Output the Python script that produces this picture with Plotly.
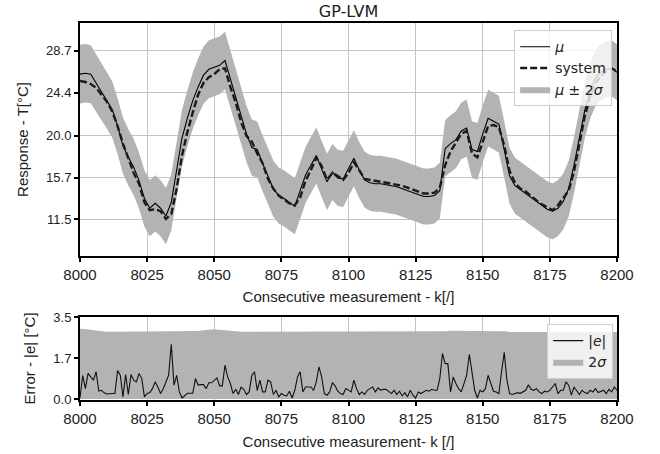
import plotly.graph_objects as go

# ---------------- data ----------------
k_top = list(range(8000, 8201, 2))

mu = [
    26.3, 26.4, 26.3, 25.4, 24.6, 23.6, 22.7, 21.0, 19.0, 17.8,
    16.8, 15.4, 13.6, 12.6, 13.1, 12.6, 11.8, 13.2, 16.6, 19.8,
    21.8, 23.6, 25.0, 26.2, 26.8, 27.0, 27.2, 27.7, 25.8, 24.0,
    22.0, 20.2, 18.8, 18.6, 17.2, 15.8, 14.6, 13.9, 13.6, 13.2,
    12.8, 14.4, 16.0, 17.0, 18.0, 16.6, 15.3, 16.3, 15.7, 15.6,
    16.6, 17.7, 16.5, 15.5, 15.2, 15.1, 15.1, 15.0, 14.9, 14.8,
    14.6, 14.4, 14.2, 14.0, 13.8, 13.8, 13.9, 14.4, 18.7, 19.2,
    19.6, 20.5, 20.8, 18.6, 18.4, 20.2, 21.8, 21.5, 21.2, 18.6,
    15.9, 14.9, 14.5, 14.1, 13.7, 13.3, 12.9, 12.5, 12.3, 12.6,
    13.3, 14.6, 17.0, 19.8, 22.6, 24.6, 25.9, 26.5, 26.8, 26.9,
    26.5,
]

system = [
    25.6, 25.5, 25.3, 24.9, 24.2, 23.5, 22.5, 21.0, 19.2, 17.6,
    16.2, 15.1, 13.2, 12.4, 12.5, 12.3, 11.5, 12.0, 14.6, 18.0,
    20.4, 22.4, 24.2, 25.4, 26.0, 26.3, 26.8, 26.9, 25.0, 23.4,
    21.4, 20.0, 19.4, 18.2, 17.2, 15.6, 14.6, 13.9, 13.5, 13.1,
    12.9, 13.7, 15.4, 16.5, 17.8, 16.9, 15.5, 16.2, 15.9, 15.5,
    16.2, 17.3, 16.5, 15.6, 15.5, 15.4, 15.3, 15.2, 15.1, 15.0,
    14.9, 14.7, 14.5, 14.3, 14.1, 14.1, 14.2, 14.7, 17.0, 18.4,
    19.3, 20.2, 20.5, 18.2, 17.8, 19.4, 21.0, 21.1, 20.9, 19.0,
    16.4, 15.2, 14.6, 14.3, 13.8, 13.4, 13.0, 12.7, 12.4, 12.9,
    13.6, 14.4, 16.4, 19.2, 22.0, 24.0, 25.4, 26.1, 26.6, 26.9,
    26.6,
]

two_sigma = [
    3.00, 2.99, 2.96, 2.92, 2.89, 2.87, 2.87, 2.87, 2.87, 2.87,
    2.87, 2.87, 2.87, 2.87, 2.87, 2.87, 2.87, 2.87, 2.87, 2.87,
    2.87, 2.88, 2.90, 2.93, 2.96, 2.98, 2.96, 2.93, 2.90, 2.88,
    2.87, 2.87, 2.87, 2.87, 2.87, 2.87, 2.87, 2.87, 2.87, 2.87,
    2.87, 2.87, 2.87, 2.87, 2.87, 2.87, 2.87, 2.87, 2.87, 2.87,
    2.86, 2.86, 2.86, 2.86, 2.86, 2.86, 2.86, 2.86, 2.86, 2.86,
    2.86, 2.86, 2.86, 2.86, 2.86, 2.86, 2.86, 2.86, 2.89, 2.91,
    2.91, 2.90, 2.91, 2.90, 2.90, 2.91, 2.90, 2.91, 2.90, 2.89,
    2.86, 2.86, 2.86, 2.86, 2.86, 2.86, 2.86, 2.86, 2.86, 2.86,
    2.86, 2.86, 2.86, 2.86, 2.86, 2.86, 2.86, 2.86, 2.86, 2.86,
    2.86,
]

k_err = list(range(8000, 8201))
err = [
    0.05, 1.00, 0.44, 1.09, 0.94, 0.80, 1.16, 0.34, 0.37, 0.26,
    0.21, 0.23, 0.23, 0.23, 1.21, 1.01, 0.09, 1.04, 0.19, 1.04,
    0.80, 0.73, 1.09, 0.87, 0.09, 0.23, 0.27, 0.44, 0.73, 0.51,
    0.23, 0.44, 0.73, 1.01, 2.33, 0.59, 1.01, 0.30, 0.04, 0.16,
    0.24, 0.24, 0.24, 0.87, 0.59, 0.61, 0.61, 0.44, 0.69, 0.69,
    0.80, 0.90, 0.56, 0.56, 1.44, 0.94, 0.66, 0.23, 0.41, 0.19,
    0.50, 0.41, 0.19, 0.30, 1.01, 1.16, 0.36, 0.80, 0.30, 0.30,
    0.80, 0.73, 0.19, 0.37, 0.09, 0.23, 0.16, 0.13, 0.33, 0.04,
    0.37, 0.94, 1.16, 0.30, 0.51, 0.51, 0.51, 0.37, 0.73, 1.37,
    0.94, 0.23, 0.16, 0.30, 0.70, 0.56, 0.33, 0.23, 0.19, 0.44,
    0.37, 0.30, 0.80, 0.44, 0.19, 0.30, 0.19, 0.37, 0.44, 0.51,
    0.30, 0.47, 0.37, 0.41, 0.41, 0.33, 0.23, 0.37, 0.19, 0.33,
    0.13, 0.27, 0.09, 0.37, 0.16, 0.04, 0.30, 0.23, 0.30, 0.37,
    0.33, 0.41, 0.37, 0.37, 0.87, 1.94, 1.51, 1.51, 0.30, 0.94,
    0.66, 0.44, 0.30, 0.66, 1.01, 1.90, 1.09, 0.37, 0.04, 0.37,
    0.30, 0.44, 1.01, 0.66, 0.33, 0.30, 0.23, 1.16, 1.99, 0.80,
    0.23, 0.19, 0.24, 0.27, 0.24, 0.30, 0.37, 0.61, 0.41, 0.37,
    0.44, 0.30, 0.23, 0.33, 0.30, 0.37, 0.51, 0.66, 0.23, 0.37,
    0.37, 0.73, 0.59, 0.16, 0.51, 0.37, 0.19, 0.37, 0.27, 0.23,
    0.37, 0.30, 0.44, 0.27, 0.33, 0.37, 0.23, 0.41, 0.30, 0.51,
    0.37,
]

x_ticks = [8000, 8025, 8050, 8075, 8100, 8125, 8150, 8175, 8200]
y_top_ticks = [11.5, 15.7, 20.0, 24.4, 28.7]
y_top_labels = ["11.5", "15.7", "20.0", "24.4", "28.7"]
y_err_ticks = [0.0, 1.75, 3.5]
y_err_labels = ["0.0", "1.7", "3.5"]

# ---------------- figure ----------------
lower = [m - s for m, s in zip(mu, two_sigma)]
upper = [m + s for m, s in zip(mu, two_sigma)]
band_color = "#b3b3b3"

fig = go.Figure()

fig.add_trace(go.Scatter(x=k_top, y=lower, mode="lines", line=dict(width=0),
                         showlegend=False, hoverinfo="skip",
                         xaxis="x", yaxis="y"))
fig.add_trace(go.Scatter(x=k_top, y=upper, mode="lines", line=dict(width=0),
                         fill="tonexty", fillcolor=band_color,
                         name="<i>μ</i> ± 2<i>σ</i>", legend="legend",
                         legendrank=3, xaxis="x", yaxis="y"))
fig.add_trace(go.Scatter(x=k_top, y=mu, mode="lines",
                         line=dict(color="black", width=1.1),
                         name="<i>μ</i>", legend="legend", legendrank=1,
                         xaxis="x", yaxis="y"))
fig.add_trace(go.Scatter(x=k_top, y=system, mode="lines",
                         line=dict(color="#1a1a1a", width=2.4, dash="7px,3px"),
                         name="system", legend="legend", legendrank=2,
                         xaxis="x", yaxis="y"))

fig.add_trace(go.Scatter(x=k_top, y=two_sigma, mode="lines", line=dict(width=0),
                         fill="tozeroy", fillcolor=band_color,
                         name="2<i>σ</i>", legend="legend2", legendrank=2,
                         xaxis="x2", yaxis="y2"))
fig.add_trace(go.Scatter(x=k_err, y=err, mode="lines",
                         line=dict(color="#111111", width=1.1),
                         name="|<i>e</i>|", legend="legend2", legendrank=1,
                         xaxis="x2", yaxis="y2"))

axis_common = dict(
    showline=True, linecolor="black", linewidth=2, mirror=True,
    ticks="outside", ticklen=4, tickwidth=1.5, tickcolor="black",
    showgrid=True, gridcolor="#c4c4c8", gridwidth=1.3, zeroline=False,
    automargin=False,
)
tick_font_x = dict(family="Liberation Sans", size=15, color="#222")
tick_font_y = dict(family="Liberation Sans", size=13, color="#222")
title_font = dict(family="Liberation Sans", size=15, color="#222")

legend_common = dict(
    bgcolor="rgba(255,255,255,0.8)", bordercolor="#cfcfcf", borderwidth=1,
    font=dict(family="DejaVu Sans", size=14, color="#222"),
    xanchor="right", yanchor="top", tracegroupgap=0, traceorder="normal",
)

W, H = 660, 454
fig.update_layout(
    width=W, height=H,
    margin=dict(l=80, r=43, t=23, b=54, autoexpand=False),
    paper_bgcolor="white", plot_bgcolor="white",
    font=dict(family="DejaVu Sans", color="#222"),
    title=dict(text="GP-LVM", x=348.5 / W, xref="container", xanchor="center",
               y=1 - 11 / H, yref="container", yanchor="middle",
               font=dict(family="DejaVu Sans", size=16, color="#222")),
    xaxis=dict(axis_common, domain=[0, 1], range=[8000, 8200], anchor="y",
               tickvals=x_ticks, tickfont=tick_font_x,
               title=dict(text="Consecutive measurement - k[/]", font=title_font,
                          standoff=10)),
    yaxis=dict(axis_common, domain=[0.382, 1.0], range=[7.72, 31.53], anchor="x",
               tickvals=y_top_ticks, ticktext=y_top_labels, tickfont=tick_font_y,
               title=dict(text="Response - T[°C]", font=title_font, standoff=14)),
    xaxis2=dict(axis_common, domain=[0, 1], range=[8000, 8200], anchor="y2",
                tickvals=x_ticks, tickfont=tick_font_x,
                title=dict(text="Consecutive measurement- k [/]", font=title_font,
                           standoff=10)),
    yaxis2=dict(axis_common, domain=[0, 0.2202], range=[-0.045, 3.5], anchor="x2",
                tickvals=y_err_ticks, ticktext=y_err_labels, tickfont=tick_font_y,
                title=dict(text="Error - |e| [°C]", font=title_font, standoff=14)),
    legend=dict(legend_common, x=0.991, y=0.981),
    legend2=dict(legend_common, x=0.993, y=0.2016),
    showlegend=True,
)

# remove the browser's default page margin so the figure sits at (0, 0)
fig.write_html("out.html",
               config={"displayModeBar": False},
               post_script="document.body.style.margin='0px';")
